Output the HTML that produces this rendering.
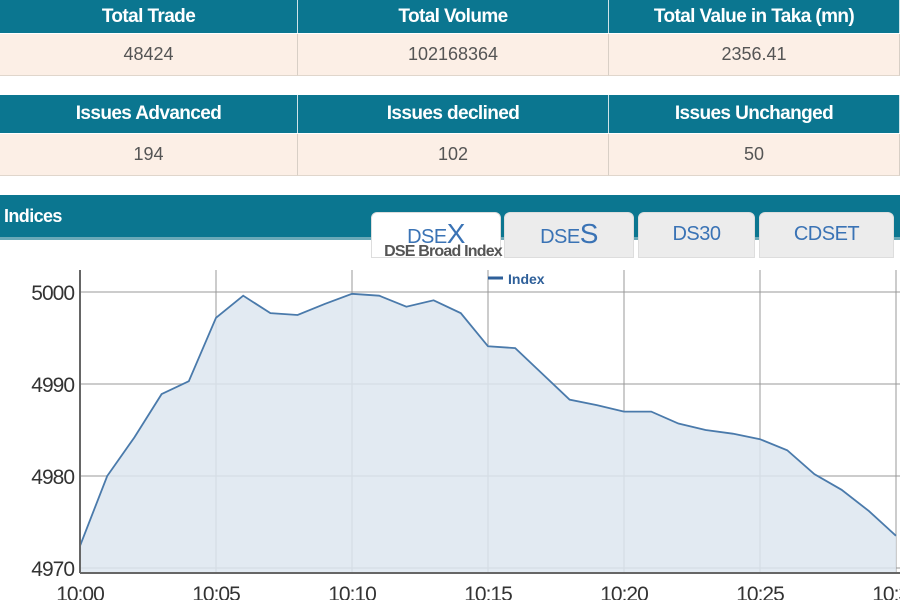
<!DOCTYPE html>
<html><head><meta charset="utf-8"><style>
body{margin:0;width:900px;height:600px;overflow:hidden;background:#fff;font-family:"Liberation Sans",Arial,sans-serif;position:relative}
.row{position:absolute;left:0;width:900px;display:flex}
.c{box-sizing:border-box;display:flex;align-items:center;justify-content:center;border-right:1px solid #d8cfc6}
.h .c{background:#0b7690;color:#fff;font-weight:bold;font-size:19px;letter-spacing:-0.6px;border-right:1px solid #cfe3e8}
.d .c{background:#fcefe6;color:#555;font-size:18px;border-bottom:1px solid #e0d6cc}
.c1{width:298px}.c2{width:311px}.c3{width:291px}
.tab{position:absolute;top:212px;height:46px;background:#ececec;border-radius:6px 6px 0 0;color:#3a73b5;font-size:20px;letter-spacing:-0.5px;text-align:center;line-height:42px;border:1px solid #ddd;box-sizing:border-box}
</style></head><body>
<div class="row h" style="top:0;height:33px"><div class="c c1">Total Trade</div><div class="c c2">Total Volume</div><div class="c c3">Total Value in Taka (mn)</div></div>
<div class="row d" style="top:34px;height:42px"><div class="c c1">48424</div><div class="c c2">102168364</div><div class="c c3">2356.41</div></div>
<div class="row h" style="top:95px;height:38px"><div class="c c1">Issues Advanced</div><div class="c c2">Issues declined</div><div class="c c3">Issues Unchanged</div></div>
<div class="row d" style="top:134px;height:42px"><div class="c c1">194</div><div class="c c2">102</div><div class="c c3">50</div></div>
<div style="position:absolute;top:195px;left:0;width:900px;height:42px;background:#0b7690;border-bottom:3px solid #6aa9b8"><span style="position:absolute;left:4px;top:11px;color:#fff;font-weight:bold;font-size:18px;letter-spacing:-0.6px">Indices</span></div>
<div class="tab" style="left:371px;width:130px;background:#fff">DSE<span style="font-size:28px">X</span></div>
<div class="tab" style="left:504px;width:130px">DSE<span style="font-size:28px">S</span></div>
<div class="tab" style="left:638px;width:117px">DS30</div>
<div class="tab" style="left:759px;width:135px">CDSET</div>
<svg id="ch" width="900" height="600" style="position:absolute;left:0;top:0"></svg>
<script>
const minutes=[0,1,2,3,4,5,6,7,8,9,10,11,12,13,14,15,16,17,18,19,20,21,22,23,24,25,26,27,28,29,30];
const values=[4972.4,4980,4984.2,4988.9,4990.3,4997.2,4999.6,4997.7,4997.5,4998.7,4999.8,4999.6,4998.4,4999.1,4997.7,4994.1,4993.9,4991.1,4988.3,4987.7,4987,4987,4985.7,4985,4984.6,4984,4982.8,4980.2,4978.5,4976.2,4973.5];
const yTicks=[4970,4980,4990,5000];
const xTicks=[0,5,10,15,20,25,30];
const xLabels=["10:00","10:05","10:10","10:15","10:20","10:25","10:30"];
const X=m=>80+m*27.2, Y=v=>568-(v-4970)*9.2;
const svg=document.getElementById('ch');const NS='http://www.w3.org/2000/svg';
function mk(t,a,txt){const e=document.createElementNS(NS,t);for(const k in a)e.setAttribute(k,a[k]);if(txt!=null)e.textContent=txt;svg.appendChild(e);return e;}
let e;
e=mk('text',{x:443,y:256,'text-anchor':'middle','font-size':16,'font-weight':'bold',fill:'#555','font-family':'Liberation Sans','letter-spacing':'-0.8'},'DSE Broad Index');


yTicks.forEach(v=>{
 e=mk('line',{x1:80,x2:900,y1:Y(v),y2:Y(v),stroke:'#bbb','stroke-width':1.5});
 
 
 e=mk('text',{x:74,y:Y(v)+8,'text-anchor':'end','font-size':21,fill:'#333','font-family':'Liberation Sans','letter-spacing':'-1'},v);
 
 
});
xTicks.forEach((m,i)=>{
 e=mk('line',{x1:X(m),x2:X(m),y1:270,y2:573,stroke:'#999','stroke-width':1});
 
 
 e=mk('text',{x:X(m),y:601,'text-anchor':'middle','font-size':21,fill:'#333','font-family':'Liberation Sans','letter-spacing':'-1'},xLabels[i]);
 
 
});
let pts=minutes.map((m,i)=>X(m)+','+Y(values[i])).join(' ');
e=mk('polygon',{points:X(minutes[0])+',573 '+pts+' '+X(minutes[minutes.length-1])+',573',fill:'#dde6f0','fill-opacity':0.85});


e=mk('polyline',{points:pts,fill:'none',stroke:'#4a7aab','stroke-width':1.8});


e=mk('line',{x1:80,x2:80,y1:270,y2:573,stroke:'#666','stroke-width':2});


e=mk('line',{x1:80,x2:900,y1:573,y2:573,stroke:'#666','stroke-width':2});


e=mk('line',{x1:488,x2:503,y1:278,y2:278,stroke:'#2e5f99','stroke-width':3});


e=mk('text',{x:508,y:284,'font-size':14,'font-weight':'bold',fill:'#2e5f99','font-family':'Liberation Sans'},'Index');


</script>
</body></html>
